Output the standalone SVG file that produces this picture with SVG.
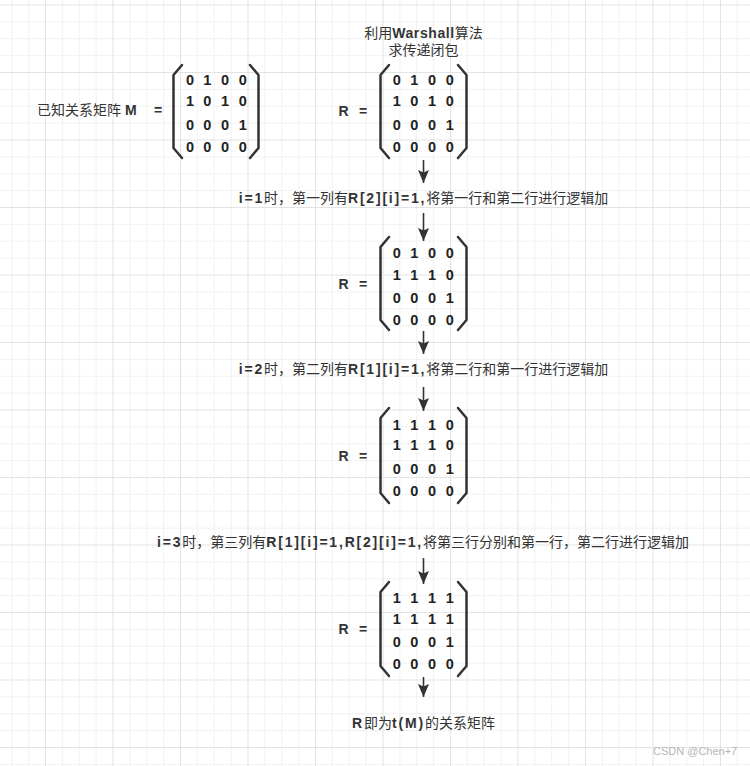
<svg xmlns="http://www.w3.org/2000/svg" width="750" height="766" viewBox="0 0 750 766">
<style>
text{font-family:"Liberation Sans","Noto Sans CJK SC",sans-serif;font-size:14px;fill:#333;}
.b{font-weight:bold;}
.s{font-weight:bold;letter-spacing:1.8px;}
.d{font-weight:bold;text-anchor:middle;font-size:14.5px;fill:#222;}
.c{text-anchor:middle;}
.br{fill:none;stroke:#333;stroke-width:2.5;stroke-linejoin:round;stroke-linecap:round;}
.ar{fill:none;stroke:#333;stroke-width:1.6;marker-end:url(#ah);}
.wm{font-size:11px;fill:#b5b5b5;}
</style>
<defs>
<pattern id="grid" patternUnits="userSpaceOnUse" x="45" y="4.5" width="67.5" height="67.5">
<g fill="#f1f1f1">
<rect x="16.875" y="0" width="1" height="67.5"/>
<rect x="33.75" y="0" width="1" height="67.5"/>
<rect x="50.625" y="0" width="1" height="67.5"/>
<rect x="0" y="16.875" width="67.5" height="1"/>
<rect x="0" y="33.75" width="67.5" height="1"/>
<rect x="0" y="50.625" width="67.5" height="1"/>
</g>
<g fill="#e3e3e3">
<rect x="0" y="0" width="1" height="67.5"/>
<rect x="0" y="0" width="67.5" height="1"/>
</g>
</pattern>
<marker id="ah" markerUnits="userSpaceOnUse" markerWidth="14" markerHeight="12" refX="13" refY="5.5" orient="auto">
<path d="M0,0 L13,5.5 L0,11 L2.5,5.5 z" fill="#333"/>
</marker>
</defs>
<rect width="750" height="766" fill="#ffffff"/>
<rect width="750" height="766" fill="url(#grid)"/>

<g id="label-M">
<text x="37" y="115">已知关系矩阵 <tspan class="b">M</tspan></text>
<text x="158" y="115" class="b c">=</text>
</g>

<g id="matrix-M">
<path class="br" d="M182,65 L173.5,75 L173.5,148 L182,158"/>
<path class="br" d="M250,65 L258.5,75 L258.5,148 L250,158"/>
<text class="d" x="190" y="85">0</text><text class="d" x="207.3" y="85">1</text><text class="d" x="225" y="85">0</text><text class="d" x="242.7" y="85">0</text>
<text class="d" x="190" y="106">1</text><text class="d" x="207.3" y="106">0</text><text class="d" x="225" y="106">1</text><text class="d" x="242.7" y="106">0</text>
<text class="d" x="190" y="129.5">0</text><text class="d" x="207.3" y="129.5">0</text><text class="d" x="225" y="129.5">0</text><text class="d" x="242.7" y="129.5">1</text>
<text class="d" x="190" y="152">0</text><text class="d" x="207.3" y="152">0</text><text class="d" x="225" y="152">0</text><text class="d" x="242.7" y="152">0</text>
</g>

<g id="title">
<text x="423.5" y="38" class="c"><tspan>利用</tspan><tspan class="b" style="letter-spacing:0.6px">Warshall</tspan><tspan>算法</tspan></text>
<text x="423.5" y="55" class="c">求传递闭包</text>
</g>

<g id="matrix-R0">
<text x="343.5" y="116" class="b c">R</text><text x="363" y="116" class="b c">=</text>
<path class="br" d="M389,65 L380.5,75 L380.5,148 L389,158"/>
<path class="br" d="M458,65 L466.5,75 L466.5,148 L458,158"/>
<text class="d" x="396.7" y="85">0</text><text class="d" x="414.3" y="85">1</text><text class="d" x="432" y="85">0</text><text class="d" x="449.7" y="85">0</text>
<text class="d" x="396.7" y="106">1</text><text class="d" x="414.3" y="106">0</text><text class="d" x="432" y="106">1</text><text class="d" x="449.7" y="106">0</text>
<text class="d" x="396.7" y="129.5">0</text><text class="d" x="414.3" y="129.5">0</text><text class="d" x="432" y="129.5">0</text><text class="d" x="449.7" y="129.5">1</text>
<text class="d" x="396.7" y="152">0</text><text class="d" x="414.3" y="152">0</text><text class="d" x="432" y="152">0</text><text class="d" x="449.7" y="152">0</text>
</g>

<g id="step1">
<text x="423.5" y="203" class="c"><tspan class="s">i=1</tspan>时，第一列有<tspan class="s">R[2][i]=1,</tspan>将第一行和第二行进行逻辑加</text>
</g>

<g id="matrix-R1">
<text x="343.5" y="289" class="b c">R</text><text x="363" y="289" class="b c">=</text>
<path class="br" d="M389,237 L380.5,247 L380.5,320 L389,330"/>
<path class="br" d="M458,237 L466.5,247 L466.5,320 L458,330"/>
<text class="d" x="396.7" y="257.5">0</text><text class="d" x="414.3" y="257.5">1</text><text class="d" x="432" y="257.5">0</text><text class="d" x="449.7" y="257.5">0</text>
<text class="d" x="396.7" y="279.5">1</text><text class="d" x="414.3" y="279.5">1</text><text class="d" x="432" y="279.5">1</text><text class="d" x="449.7" y="279.5">0</text>
<text class="d" x="396.7" y="302.5">0</text><text class="d" x="414.3" y="302.5">0</text><text class="d" x="432" y="302.5">0</text><text class="d" x="449.7" y="302.5">1</text>
<text class="d" x="396.7" y="324.5">0</text><text class="d" x="414.3" y="324.5">0</text><text class="d" x="432" y="324.5">0</text><text class="d" x="449.7" y="324.5">0</text>
</g>

<g id="step2">
<text x="423.5" y="374" class="c"><tspan class="s">i=2</tspan>时，第二列有<tspan class="s">R[1][i]=1,</tspan>将第二行和第一行进行逻辑加</text>
</g>

<g id="matrix-R2">
<text x="343.5" y="461" class="b c">R</text><text x="363" y="461" class="b c">=</text>
<path class="br" d="M389,408 L380.5,418 L380.5,493 L389,503"/>
<path class="br" d="M458,408 L466.5,418 L466.5,493 L458,503"/>
<text class="d" x="396.7" y="430">1</text><text class="d" x="414.3" y="430">1</text><text class="d" x="432" y="430">1</text><text class="d" x="449.7" y="430">0</text>
<text class="d" x="396.7" y="450">1</text><text class="d" x="414.3" y="450">1</text><text class="d" x="432" y="450">1</text><text class="d" x="449.7" y="450">0</text>
<text class="d" x="396.7" y="473.5">0</text><text class="d" x="414.3" y="473.5">0</text><text class="d" x="432" y="473.5">0</text><text class="d" x="449.7" y="473.5">1</text>
<text class="d" x="396.7" y="496">0</text><text class="d" x="414.3" y="496">0</text><text class="d" x="432" y="496">0</text><text class="d" x="449.7" y="496">0</text>
</g>

<g id="step3">
<text x="423" y="547" class="c"><tspan class="s">i=3</tspan>时，第三列有<tspan class="s">R[1][i]=1,R[2][i]=1,</tspan>将第三行分别和第一行，第二行进行逻辑加</text>
</g>

<g id="matrix-R3">
<text x="343.5" y="634" class="b c">R</text><text x="363" y="634" class="b c">=</text>
<path class="br" d="M389,582 L380.5,592 L380.5,666 L389,676"/>
<path class="br" d="M458,582 L466.5,592 L466.5,666 L458,676"/>
<text class="d" x="396.7" y="603">1</text><text class="d" x="414.3" y="603">1</text><text class="d" x="432" y="603">1</text><text class="d" x="449.7" y="603">1</text>
<text class="d" x="396.7" y="623.5">1</text><text class="d" x="414.3" y="623.5">1</text><text class="d" x="432" y="623.5">1</text><text class="d" x="449.7" y="623.5">1</text>
<text class="d" x="396.7" y="647">0</text><text class="d" x="414.3" y="647">0</text><text class="d" x="432" y="647">0</text><text class="d" x="449.7" y="647">1</text>
<text class="d" x="396.7" y="669">0</text><text class="d" x="414.3" y="669">0</text><text class="d" x="432" y="669">0</text><text class="d" x="449.7" y="669">0</text>
</g>

<g id="result">
<text x="423.5" y="728" class="c"><tspan class="s">R</tspan>即为<tspan class="s">t(M)</tspan>的关系矩阵</text>
</g>

<g id="connectors">
<line class="ar" x1="423.5" y1="160" x2="423.5" y2="183"/>
<line class="ar" x1="423.5" y1="213" x2="423.5" y2="241"/>
<line class="ar" x1="423.5" y1="331" x2="423.5" y2="354"/>
<line class="ar" x1="423.5" y1="387" x2="423.5" y2="411"/>
<line class="ar" x1="423.5" y1="558" x2="423.5" y2="584"/>
<line class="ar" x1="423.5" y1="677" x2="423.5" y2="697"/>
</g>

<text class="wm" x="653" y="755">CSDN @Chen+7</text>
</svg>
